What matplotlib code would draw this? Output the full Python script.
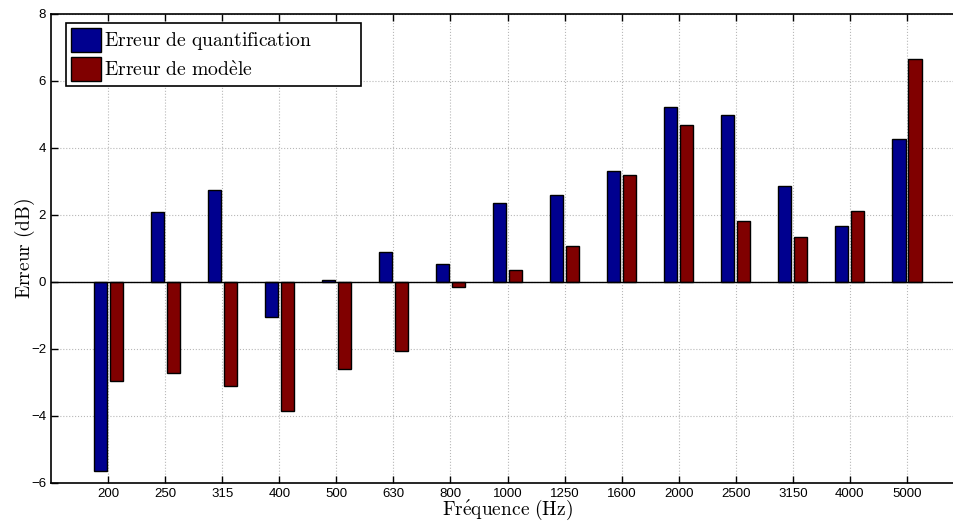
import numpy as np
import matplotlib
matplotlib.use("Agg")
import matplotlib.pyplot as plt

freqs = ["200", "250", "315", "400", "500", "630", "800", "1000",
         "1250", "1600", "2000", "2500", "3150", "4000", "5000"]
err_quant = [-5.64, 2.09, 2.75, -1.04, 0.05, 0.88, 0.52, 2.35,
             2.6, 3.32, 5.22, 4.99, 2.86, 1.67, 4.27]
err_model = [-2.96, -2.72, -3.1, -3.85, -2.6, -2.07, -0.15, 0.36,
             1.08, 3.2, 4.68, 1.82, 1.33, 2.12, 6.65]

plt.rcParams["mathtext.fontset"] = "cm"
plt.rcParams["font.family"] = ["Liberation Sans", "DejaVu Sans"]

fig = plt.figure(figsize=(9.54, 5.22), dpi=100)
# axes goes a bit past the right edge, like the cropped original
ax = fig.add_axes([0.0535, 0.0753, 0.957, 0.898])

x = np.arange(len(freqs))
w = 0.23
ax.bar(x - 0.14, err_quant, w, color="#00008f", edgecolor="black", linewidth=1.0,
       label=r"$\mathrm{Erreur\ de\ quantification}$", zorder=3)
ax.bar(x + 0.14, err_model, w, color="#800000", edgecolor="black", linewidth=1.0,
       label=r"$\mathrm{Erreur\ de\ mod\grave{e}le}$", zorder=3)
ax.axhline(0, color="black", linewidth=1.0, zorder=4)

ax.set_xlim(-1, 15)
ax.set_ylim(-6, 8)
ax.set_xticks(x)
ax.set_xticklabels(freqs)
ax.set_yticks(np.arange(-6, 9, 2))
ax.tick_params(direction="in", top=True, right=False, labelsize=9.5, length=5, width=1)
ax.grid(True, linestyle=":", color="#b8b8b8", linewidth=0.8, zorder=0)
ax.spines["right"].set_visible(False)
for s in ax.spines.values():
    s.set_linewidth(1.2)

ax.set_xlabel(r"$\mathrm{Fr\acute{e}quence\ (Hz)}$", fontsize=14, labelpad=-1)
ax.set_ylabel(r"$\mathrm{Erreur\ (dB)}$", fontsize=14, labelpad=-4)

leg = ax.legend(loc="upper left", bbox_to_anchor=(0.0161, 0.3, 0.3234, 0.681),
                mode="expand", prop={"size": 14.2},
                fancybox=False, framealpha=1, edgecolor="black",
                handlelength=1.52, handleheight=1.5, borderaxespad=0,
                borderpad=0.25, labelspacing=0.25, handletextpad=0.15)
leg.get_frame().set_linewidth(1.2)

fig.savefig("out.png", dpi=100)
